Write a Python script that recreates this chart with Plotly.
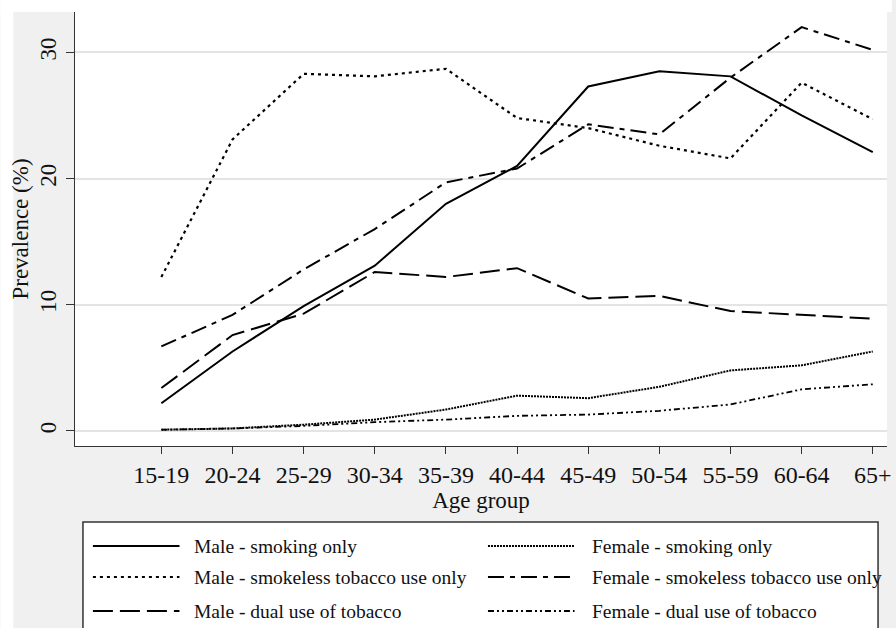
import plotly.graph_objects as go

# ---------------- data ----------------
age_groups = ["15-19", "20-24", "25-29", "30-34", "35-39", "40-44",
              "45-49", "50-54", "55-59", "60-64", "65+"]

male_smoking_only = [2.2, 6.3, 9.9, 13.1, 18.0, 21.0, 27.3, 28.5, 28.1, 25.0, 22.1]
male_smokeless_only = [12.2, 23.1, 28.3, 28.1, 28.7, 24.8, 24.0, 22.6, 21.6, 27.6, 24.7]
male_dual_use = [3.4, 7.6, 9.3, 12.6, 12.2, 12.9, 10.5, 10.7, 9.5, 9.2, 8.9]
female_smoking_only = [0.1, 0.2, 0.5, 0.9, 1.7, 2.8, 2.6, 3.5, 4.8, 5.2, 6.3]
female_smokeless_only = [6.7, 9.2, 12.8, 16.0, 19.7, 20.8, 24.3, 23.5, 28.0, 32.0, 30.2]
female_dual_use = [0.1, 0.2, 0.4, 0.7, 0.9, 1.2, 1.3, 1.6, 2.1, 3.3, 3.7]

series_names = ["Male - smoking only", "Female - smoking only",
                "Male - smokeless tobacco use only", "Female - smokeless tobacco use only",
                "Male - dual use of tobacco", "Female - dual use of tobacco"]
series_values = [male_smoking_only, female_smoking_only,
                 male_smokeless_only, female_smokeless_only,
                 male_dual_use, female_dual_use]

y_ticks = [0, 10, 20, 30]

# ---------------- styles ----------------
styles = [
    dict(color="black", width=2.0, dash="solid"),
    dict(color="black", width=2.0, dash="2px,1px"),
    dict(color="black", width=2.2, dash="3px,4px"),
    dict(color="black", width=2.0, dash="16px,6px,5px,6px"),
    dict(color="black", width=2.0, dash="20px,7px"),
    dict(color="black", width=1.8, dash="6px,3px,2px,3px,2px,3px"),
]

FONT = "Liberation Serif"
W, H = 896, 628
L, R, T, B = 75, 891, 12, 446  # plot area in pixels


def px_x(px):
    return (px - L) / (R - L)


def px_y(py):
    return (B - py) / (B - T)


fig = go.Figure()
x_idx = list(range(len(age_groups)))
for name, vals, st in zip(series_names, series_values, styles):
    fig.add_trace(go.Scatter(x=x_idx, y=vals, mode="lines", name=name,
                             line=st, showlegend=False, hoverinfo="skip"))

shapes = []
annotations = []
# white outer strips (top and left)
shapes.append(dict(type="rect", xref="paper", yref="paper", layer="below",
                   x0=px_x(0), x1=px_x(W), y0=px_y(T), y1=px_y(0),
                   fillcolor="white", line=dict(width=0)))
shapes.append(dict(type="rect", xref="paper", yref="paper", layer="below",
                   x0=px_x(0), x1=px_x(13), y0=px_y(H), y1=px_y(0),
                   fillcolor="white", line=dict(width=0)))

# legend box
shapes.append(dict(type="rect", xref="paper", yref="paper", layer="above",
                   x0=px_x(83), x1=px_x(882), y0=px_y(645), y1=px_y(522),
                   fillcolor="white", line=dict(color="#333333", width=1.5)))
row_y = [546, 577, 611]
col_line = [(93, 180), (490, 577)]
col_text = [193, 593]
for i, (name, st) in enumerate(zip(series_names, styles)):
    r, c = divmod(i, 2)
    yy = px_y(row_y[r])
    shapes.append(dict(type="line", xref="paper", yref="paper", layer="above",
                       x0=px_x(col_line[c][0]), x1=px_x(col_line[c][1]), y0=yy, y1=yy,
                       line=dict(color=st["color"], width=st["width"], dash=st["dash"])))
    annotations.append(dict(xref="paper", yref="paper", x=px_x(col_text[c]), y=yy,
                            xanchor="left", yanchor="middle", showarrow=False,
                            text=name, font=dict(family=FONT, size=19.5, color="#111111")))

fig.update_layout(
    width=W, height=H,
    margin=dict(l=L, r=W - R, t=T, b=H - B, pad=0),
    paper_bgcolor="#f0f0f0",
    plot_bgcolor="white",
    font=dict(family=FONT, size=23, color="#111111"),
    shapes=shapes,
    annotations=annotations,
    showlegend=False,
)
fig.update_xaxes(
    range=[-1.214, 10.2],
    tickmode="array", tickvals=x_idx, ticktext=age_groups,
    ticks="outside", ticklen=7, tickwidth=1.2, tickcolor="#333333",
    showline=True, linecolor="#333333", linewidth=1.2,
    showgrid=False, zeroline=False,
    tickfont=dict(family=FONT, size=24),
    title=dict(text="Age group", font=dict(family=FONT, size=23), standoff=0),
)
fig.update_yaxes(
    range=[-1.19, 33.2],
    tickmode="array", tickvals=y_ticks,
    tickangle=-90,
    ticks="outside", ticklen=8, tickwidth=1.2, tickcolor="#333333",
    ticklabelstandoff=1,
    showline=True, linecolor="#333333", linewidth=1.2,
    showgrid=True, gridcolor="#e4e4e4", gridwidth=1.5,
    zeroline=False,
    tickfont=dict(family=FONT, size=23),
    title=dict(text="Prevalence (%)", font=dict(family=FONT, size=23), standoff=0),
)

fig.write_html("out.html", config={"displayModeBar": False},
               post_script="document.body.style.margin='0';")
